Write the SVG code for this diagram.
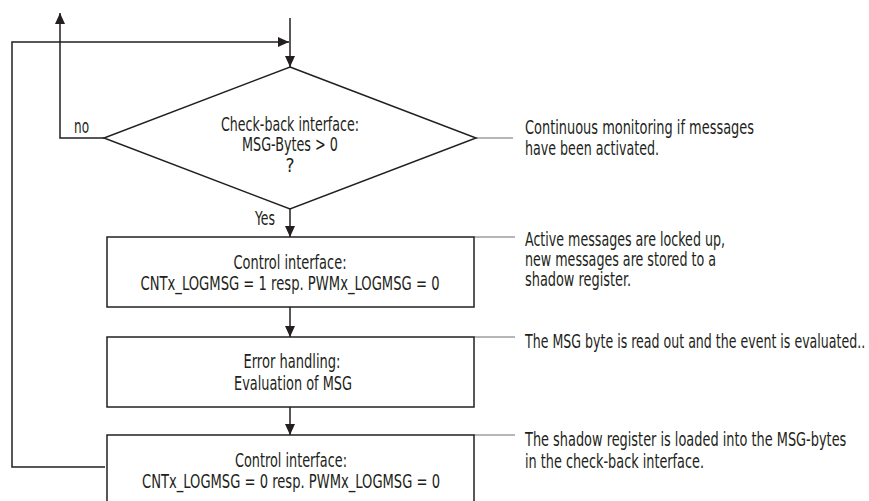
<svg xmlns="http://www.w3.org/2000/svg" width="869" height="501" viewBox="0 0 869 501">
<style>
.t{font-family:"Liberation Sans Narrow","DejaVu Sans Condensed","Liberation Sans",sans-serif;font-size:19px;fill:#231f20}
.c{text-anchor:middle}
.shape{fill:#fff;stroke:#231f20;stroke-width:1.5}
.line{fill:none;stroke:#231f20;stroke-width:1.5}
.ann{fill:none;stroke:#6d6e71;stroke-width:1}
</style>
<defs>
<marker id="ah" markerUnits="userSpaceOnUse" markerWidth="11" markerHeight="10" refX="11" refY="5" orient="auto">
<path d="M0,0 L11,5 L0,10 z" fill="#231f20"/>
</marker>
</defs>
<rect width="869" height="501" fill="#fff"/>
<g id="connectors">
<line class="line" x1="290" y1="18" x2="290" y2="67" marker-end="url(#ah)"/>
<polyline class="line" points="105,467 12,467 12,42 289,42" marker-end="url(#ah)"/>
<polyline class="line" points="104,138 60,138 60,13" marker-end="url(#ah)"/>
<line class="line" x1="290" y1="209" x2="290" y2="237" marker-end="url(#ah)"/>
<line class="line" x1="290" y1="307" x2="290" y2="337" marker-end="url(#ah)"/>
<line class="line" x1="290" y1="407" x2="290" y2="435" marker-end="url(#ah)"/>
<line class="ann" x1="476" y1="138" x2="513" y2="138"/>
<line class="ann" x1="474" y1="237" x2="515" y2="237"/>
<line class="ann" x1="474" y1="337" x2="515" y2="337"/>
<line class="ann" x1="474" y1="435" x2="515" y2="435"/>
<text class="t" x="74" y="133" textLength="15" lengthAdjust="spacingAndGlyphs">no</text>
<text class="t" x="255" y="225" textLength="20" lengthAdjust="spacingAndGlyphs">Yes</text>
</g>
<g id="decision">
<polygon class="shape" points="290,67 476,138 290,209 104,138"/>
<text class="t c" x="290" y="131" textLength="138" lengthAdjust="spacingAndGlyphs">Check-back interface:</text>
<text class="t c" x="290" y="151" textLength="96" lengthAdjust="spacingAndGlyphs">MSG-Bytes &gt; 0</text>
<text class="t c" x="290" y="172">?</text>
</g>
<g id="box1">
<rect class="shape" x="107" y="237" width="367" height="70"/>
<text class="t c" x="290" y="269" textLength="113" lengthAdjust="spacingAndGlyphs">Control interface:</text>
<text class="t c" x="290" y="290" textLength="299" lengthAdjust="spacingAndGlyphs">CNTx_LOGMSG = 1 resp. PWMx_LOGMSG = 0</text>
</g>
<g id="box2">
<rect class="shape" x="107" y="337" width="367" height="70"/>
<text class="t c" x="292" y="368" textLength="97" lengthAdjust="spacingAndGlyphs">Error handling:</text>
<text class="t c" x="293" y="390" textLength="118" lengthAdjust="spacingAndGlyphs">Evaluation of MSG</text>
</g>
<g id="box3">
<rect class="shape" x="107" y="435" width="367" height="70"/>
<text class="t c" x="291" y="467" textLength="112" lengthAdjust="spacingAndGlyphs">Control interface:</text>
<text class="t c" x="291" y="488" textLength="298" lengthAdjust="spacingAndGlyphs">CNTx_LOGMSG = 0 resp. PWMx_LOGMSG = 0</text>
</g>
<g id="note1">
<text class="t" x="525" y="134" textLength="229" lengthAdjust="spacingAndGlyphs">Continuous monitoring if messages</text>
<text class="t" x="525" y="155" textLength="134" lengthAdjust="spacingAndGlyphs">have been activated.</text>
</g>
<g id="note2">
<text class="t" x="525" y="246" textLength="200" lengthAdjust="spacingAndGlyphs">Active messages are locked up,</text>
<text class="t" x="525" y="266" textLength="191" lengthAdjust="spacingAndGlyphs">new messages are stored to a</text>
<text class="t" x="525" y="286" textLength="106" lengthAdjust="spacingAndGlyphs">shadow register.</text>
</g>
<g id="note3">
<text class="t" transform="translate(525,348) scale(0.7,1)" x="0" y="0" textLength="486" lengthAdjust="spacingAndGlyphs">The MSG byte is read out and the event is evaluated..</text>
</g>
<g id="note4">
<text class="t" transform="translate(525,446) scale(0.7,1)" x="0" y="0" textLength="459" lengthAdjust="spacingAndGlyphs">The shadow register is loaded into the MSG-bytes</text>
<text class="t" x="525" y="468" textLength="179" lengthAdjust="spacingAndGlyphs">in the check-back interface.</text>
</g>
</svg>
